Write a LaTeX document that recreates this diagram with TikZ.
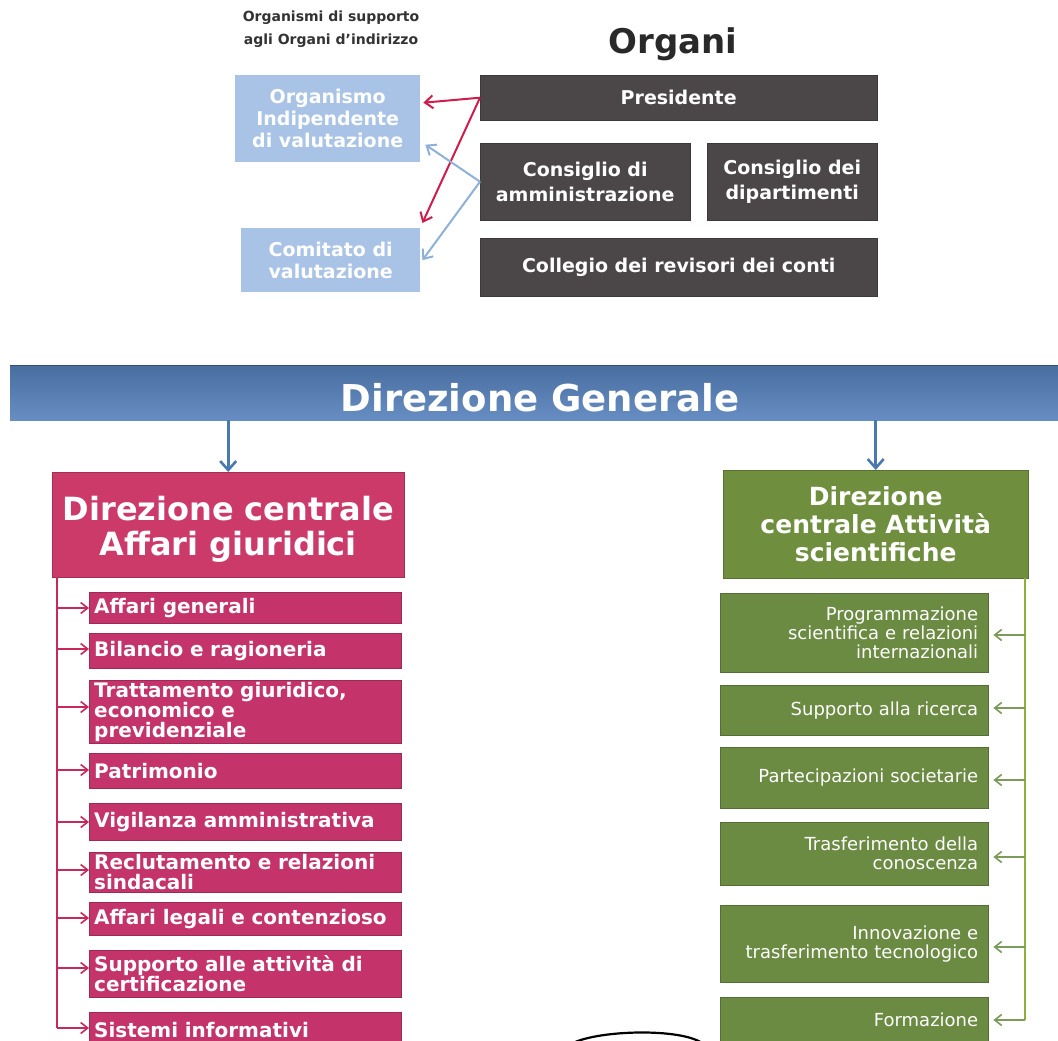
\documentclass[tikz,border=0pt]{standalone}
\usepackage{fontspec}
\setmainfont{DejaVu Sans}
\usetikzlibrary{arrows.meta}
\definecolor{darkbox}{HTML}{4B4749}
\definecolor{lightblue}{HTML}{A9C3E6}
\definecolor{redhead}{HTML}{CC3A6A}
\definecolor{redsubc}{HTML}{C4336A}
\definecolor{redline}{HTML}{C8285A}
\definecolor{greenhead}{HTML}{6F8F3F}
\definecolor{greensubc}{HTML}{6B8A42}
\definecolor{greenline}{HTML}{8FAE3A}
\definecolor{greenarr}{HTML}{7C9A5A}
\definecolor{barblue}{HTML}{5681BC}
\definecolor{arrblue}{HTML}{4A78B0}
\definecolor{lightarr}{HTML}{8FB0D8}
\definecolor{redarr}{HTML}{D01C4A}
\definecolor{labelgray}{HTML}{333333}
\begin{document}
\begin{tikzpicture}[x=1pt,y=-1pt,
  orgbox/.style={fill=darkbox, draw=darkbox!80!black, text=white, font=\bfseries\fontsize{19}{25}\selectfont, align=center, inner sep=0pt, anchor=north west},
  supbox/.style={fill=lightblue, text=white, font=\bfseries\fontsize{19}{22}\selectfont, align=center, inner sep=0pt, anchor=north west},
  redsub/.style={fill=redsubc, draw=redsubc!80!black, text=white, font=\bfseries\fontsize{20}{20}\selectfont, align=left, inner xsep=5pt, inner ysep=0pt, text width=302pt, anchor=north west},
  greensub/.style={fill=greensubc, draw=greensubc!80!black, text=white, font=\fontsize{18}{19}\selectfont, align=right, inner xsep=10pt, inner ysep=0pt, text width=248pt, anchor=north west},
  redconn/.style={draw=redline, line width=1.6pt},
  redtip/.style={draw=redline, line width=1.6pt, -{Straight Barb[length=7pt,width=11pt]}},
  greenconn/.style={draw=greenline, line width=1.6pt},
  greentip/.style={draw=greenarr, line width=1.6pt, -{Straight Barb[length=7pt,width=11pt]}},
  topred/.style={draw=redarr, line width=2pt, -{Straight Barb[length=8pt,width=13pt]}},
  topblue/.style={draw=lightarr, line width=2pt, -{Straight Barb[length=8pt,width=13pt]}},
  downarr/.style={draw=arrblue, line width=2.6pt, -{Straight Barb[length=9pt,width=16pt]}}
]
\useasboundingbox (0,0) rectangle (1058,1041);
\clip (0,0) rectangle (1058,1041);
\fill[white] (0,0) rectangle (1058,1041);

% ---------- top part ----------
\node[text=labelgray, font=\bfseries\fontsize{14}{23}\selectfont, align=center] (lab) at (331,29) {Organismi di supporto\\agli Organi d'indirizzo};
\node[text=labelgray!80!black, font=\bfseries\fontsize{34}{36}\selectfont] (organi) at (673,44) {Organi};

\node[supbox, minimum width=185pt, minimum height=87pt] (oiv) at (235,75) {Organismo\\Indipendente\\di valutazione};
\node[supbox, minimum width=179pt, minimum height=64pt] (com) at (241,228) {Comitato di\\valutazione};

\node[orgbox, minimum width=397pt, minimum height=45pt] (pres) at (480,75) {Presidente};
\node[orgbox, minimum width=210pt, minimum height=77pt] (cda) at (480,143) {Consiglio di\\amministrazione};
\node[orgbox, minimum width=170pt, minimum height=77pt] (cdd) at (707,143) {Consiglio dei\\dipartimenti};
\node[orgbox, minimum width=397pt, minimum height=58pt] (coll) at (480,238) {Collegio dei revisori dei conti};

\draw[topred] (pres.west) -- ([xshift=3pt,yshift=16pt]oiv.east);
\draw[topred] (pres.west) -- ([xshift=2pt,yshift=5pt]com.north east);
\draw[topblue] (cda.west) -- ([xshift=5pt,yshift=-26pt]oiv.east);
\draw[topblue] (cda.west) -- ([xshift=2pt]com.east);

% ---------- Direzione Generale ----------
\node[anchor=north west, minimum width=1070pt, minimum height=55pt, inner sep=0pt,
      top color=barblue!85!black, bottom color=barblue!90!white] (dg) at (10,365) {};
\draw[barblue!60!black, line width=1pt] (dg.north west) -- (dg.north east);
\node[text=white, font=\bfseries\fontsize{37}{40}\selectfont] (dgt) at (540,398) {Direzione Generale};

% ---------- red column ----------
\node[fill=redhead, draw=redhead!80!black, text=white, font=\bfseries\fontsize{32}{35}\selectfont, align=center,
      minimum width=352pt, minimum height=105pt, inner sep=0pt, anchor=north west] (rh) at (52,472) {\rule{0pt}{34pt}Direzione centrale\\Affari giuridici};
\draw[downarr] (dg.south -| rh.north) -- (rh.north);

\node[redsub, minimum height=31pt] (r1) at (89,592) {Affari generali};
\node[redsub, minimum height=35pt] (r2) at (89,633) {Bilancio e ragioneria};
\node[redsub, minimum height=63pt] (r3) at (89,680) {Trattamento giuridico,\\economico e\\previdenziale};
\node[redsub, minimum height=35pt] (r4) at (89,753) {Patrimonio};
\node[redsub, minimum height=37pt] (r5) at (89,803) {Vigilanza amministrativa};
\node[redsub, minimum height=40pt] (r6) at (89,852) {Reclutamento e relazioni\\sindacali};
\node[redsub, minimum height=33pt] (r7) at (89,902) {Affari legali e contenzioso};
\node[redsub, minimum height=47pt] (r8) at (89,950) {Supporto alle attività di\\certificazione};
\node[redsub, minimum height=36pt] (r9) at (89,1012) {Sistemi informativi};

\coordinate (rtop) at (57,577);
\coordinate (rbot) at (57,1028);
\draw[redconn] (rtop) -- (rbot);
\foreach \n/\yy in {r1/608,r2/649,r3/707,r4/770,r5/822,r6/870,r7/918,r8/968,r9/1028}{
  \draw[redtip] (57,\yy) -- (\n.west |- 0,\yy);
}

% ---------- green column ----------
\node[fill=greenhead, draw=greenhead!80!black, text=white, font=\bfseries\fontsize{25}{28}\selectfont, align=center,
      minimum width=305pt, minimum height=108pt, inner sep=0pt, anchor=north west] (gh) at (723,470) {Direzione\\centrale Attività\\scientifiche};
\draw[downarr] (dg.south -| gh.north) -- (gh.north);

\node[greensub, minimum height=79pt] (g1) at (720,593) {Programmazione\\scientifica e relazioni\\internazionali};
\node[greensub, minimum height=50pt] (g2) at (720,685) {Supporto alla ricerca};
\node[greensub, minimum height=61pt] (g3) at (720,747) {Partecipazioni societarie};
\node[greensub, minimum height=63pt] (g4) at (720,822) {Trasferimento della\\conoscenza};
\node[greensub, minimum height=77pt] (g5) at (720,905) {Innovazione e\\trasferimento tecnologico};
\node[greensub, minimum height=46pt] (g6) at (720,997) {Formazione};

\coordinate (gtop) at (1025,578);
\coordinate (gbot) at (1025,1020);
\draw[greenconn] (gtop) -- (gbot);
\foreach \n/\yy in {g1/635,g2/708,g3/780,g4/857,g5/947,g6/1020}{
  \draw[greentip] (1025,\yy) -- ([xshift=5pt]\n.east |- 0,\yy);
}

% ---------- partial arc at bottom ----------
\draw[line width=2.2pt] (573,1043) .. controls (600,1030) and (680,1028) .. (702,1043);
\end{tikzpicture}
\end{document}
